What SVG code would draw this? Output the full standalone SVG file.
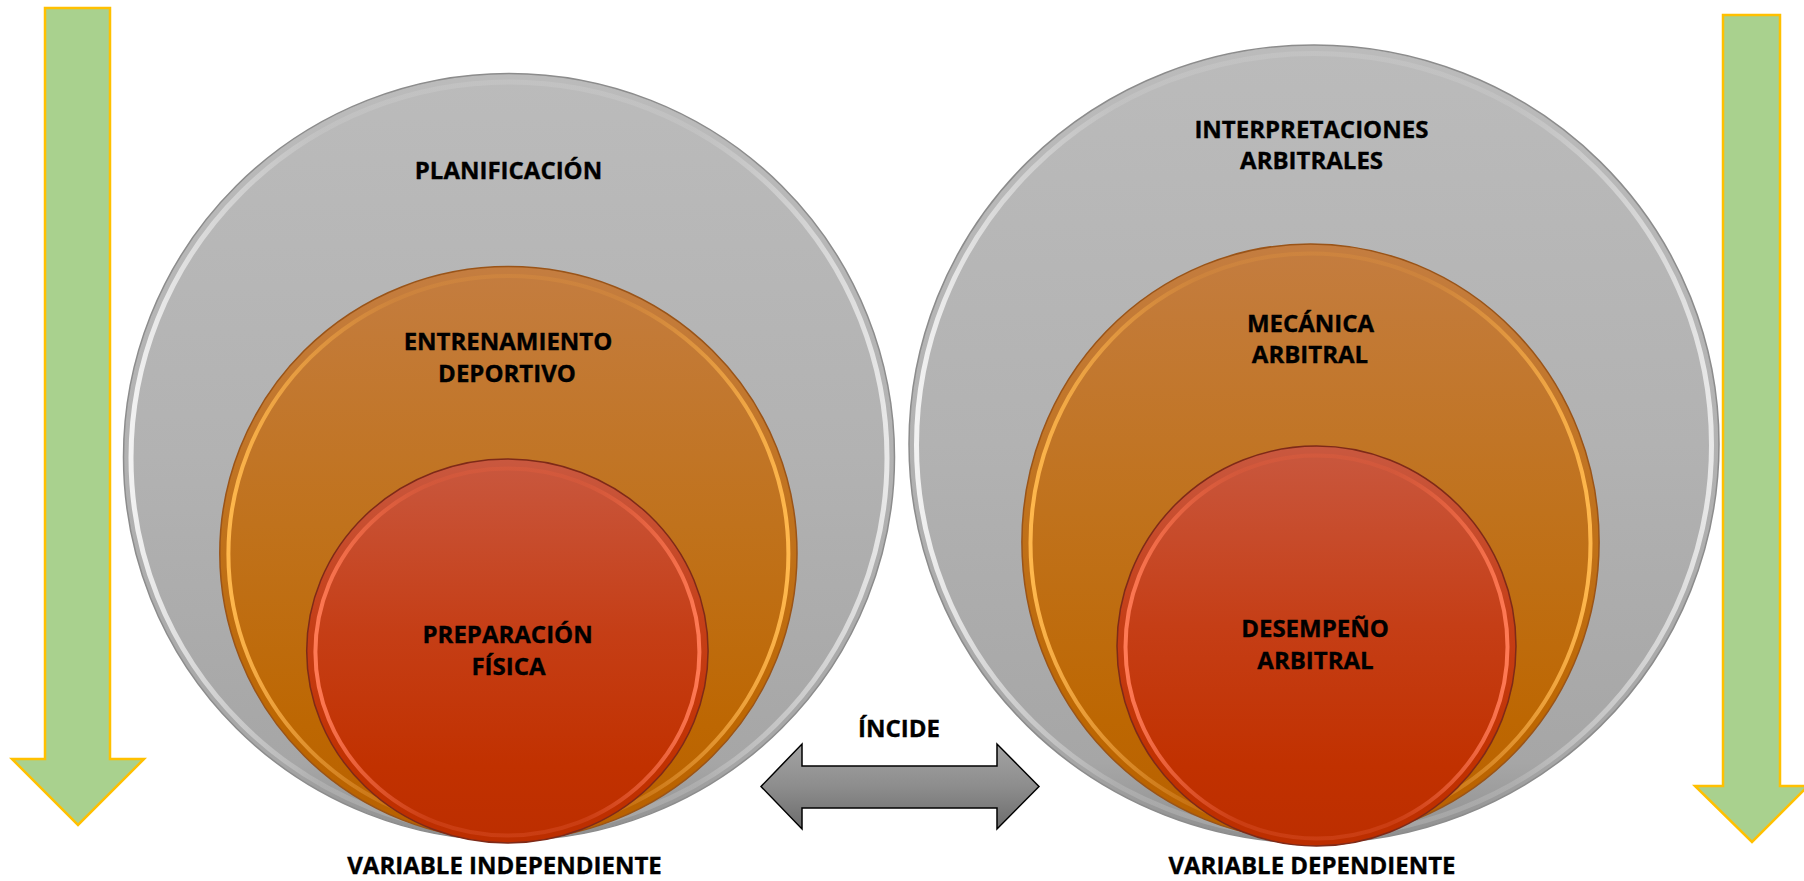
<svg xmlns="http://www.w3.org/2000/svg" width="1804" height="881" viewBox="0 0 1804 881">
<style>
.lbl{font-family:"Open Sans","Liberation Sans",Arial,sans-serif;font-weight:700;font-size:24px;fill:#000;stroke:#000;stroke-width:0.35;text-anchor:middle}
.green{fill:#a9d18e;stroke:#ffc000;stroke-width:2.5;stroke-linejoin:miter}
.gray{fill:url(#gGray);stroke:#8c8c8c;stroke-width:1.5}
.grayRim{fill:none;stroke:url(#gGrayRim);stroke-width:5}
.orange{fill:url(#gOrange);stroke:#9a5418;stroke-width:1.5}
.orangeRim{fill:none;stroke:url(#gOrangeRim);stroke-width:4}
.red{fill:url(#gRed);stroke:#7e2a18;stroke-width:1.5}
.redRim{fill:none;stroke:url(#gRedRim);stroke-width:4}
.dbl{fill:url(#gArrow);stroke:#000;stroke-width:1.5;stroke-linejoin:miter}
</style>
<defs>
<linearGradient id="gGray" x1="0" y1="0" x2="0" y2="1">
<stop offset="0" stop-color="#bbbbbb"/>
<stop offset="0.5" stop-color="#b2b2b2"/>
<stop offset="0.9" stop-color="#a6a6a6"/>
<stop offset="1" stop-color="#8e8e8e"/>
</linearGradient>
<linearGradient id="gGrayRim" x1="0" y1="0" x2="1" y2="0">
<stop offset="0" stop-color="#f2f2f2"/>
<stop offset="0.25" stop-color="#d8d8d8" stop-opacity="0.25"/>
<stop offset="0.75" stop-color="#d8d8d8" stop-opacity="0.25"/>
<stop offset="1" stop-color="#eeeeee" stop-opacity="0.9"/>
</linearGradient>
<linearGradient id="gOrange" x1="0" y1="0" x2="0" y2="1">
<stop offset="0" stop-color="#c47d40"/>
<stop offset="0.45" stop-color="#c0721c"/>
<stop offset="0.8" stop-color="#bd6702"/>
<stop offset="1" stop-color="#b86000"/>
</linearGradient>
<linearGradient id="gOrangeRim" x1="0" y1="0" x2="1" y2="0">
<stop offset="0" stop-color="#ffb84d"/>
<stop offset="0.3" stop-color="#e89a40" stop-opacity="0.25"/>
<stop offset="0.7" stop-color="#e89a40" stop-opacity="0.25"/>
<stop offset="1" stop-color="#ffb84d"/>
</linearGradient>
<linearGradient id="gRed" x1="0" y1="0" x2="0" y2="1">
<stop offset="0" stop-color="#c9583f"/>
<stop offset="0.45" stop-color="#c53e16"/>
<stop offset="0.8" stop-color="#c13100"/>
<stop offset="1" stop-color="#bc2e00"/>
</linearGradient>
<linearGradient id="gRedRim" x1="0" y1="0" x2="1" y2="0">
<stop offset="0" stop-color="#ff7a55"/>
<stop offset="0.3" stop-color="#e9603e" stop-opacity="0.3"/>
<stop offset="0.7" stop-color="#e9603e" stop-opacity="0.3"/>
<stop offset="1" stop-color="#ff7a55"/>
</linearGradient>
<linearGradient id="gArrow" x1="0" y1="0" x2="0" y2="1">
<stop offset="0" stop-color="#a3a3a3"/>
<stop offset="0.5" stop-color="#8d8d8d"/>
<stop offset="1" stop-color="#6c6c6c"/>
</linearGradient>
</defs>
<rect width="1804" height="881" fill="#ffffff"/>

<g id="arrow-left-green">
<polygon class="green" points="45,8 110,8 110,759 144,759 78,825 12,759 45,759"/>
</g>
<g id="arrow-right-green">
<polygon class="green" points="1723,15 1780,15 1780,786 1808,786 1752,842 1695,786 1723,786"/>
</g>

<g id="node-planificacion">
<ellipse class="gray" cx="509" cy="457" rx="385.5" ry="383.5"/>
<ellipse class="grayRim" cx="509" cy="458" rx="378" ry="376"/>
<text class="lbl" x="508.5" y="179.3">PLANIFICACIÓN</text>
</g>
<g id="node-entrenamiento">
<ellipse class="orange" cx="508.4" cy="553.3" rx="288.6" ry="286.7"/>
<ellipse class="orangeRim" cx="508.4" cy="554" rx="280" ry="278"/>
<text class="lbl" x="508" y="350">ENTRENAMIENTO</text>
<text class="lbl" x="507" y="381.7">DEPORTIVO</text>
</g>
<g id="node-preparacion">
<ellipse class="red" cx="507.4" cy="651" rx="200.7" ry="192"/>
<ellipse class="redRim" cx="507.4" cy="652" rx="192" ry="183.5"/>
<text class="lbl" x="507.6" y="643.3">PREPARACIÓN</text>
<text class="lbl" x="508.5" y="675">FÍSICA</text>
</g>

<g id="node-interpretaciones">
<ellipse class="gray" cx="1314" cy="444" rx="405" ry="399"/>
<ellipse class="grayRim" cx="1314" cy="445" rx="397.5" ry="391.5"/>
<text class="lbl" x="1311.4" y="138.3">INTERPRETACIONES</text>
<text class="lbl" x="1311.6" y="169.3">ARBITRALES</text>
</g>
<g id="node-mecanica">
<ellipse class="orange" cx="1310.5" cy="542" rx="288.6" ry="298"/>
<ellipse class="orangeRim" cx="1310.5" cy="543" rx="280" ry="289.5"/>
<text class="lbl" x="1310.5" y="331.7">MECÁNICA</text>
<text class="lbl" x="1310" y="363.3">ARBITRAL</text>
</g>
<g id="node-desempeno">
<ellipse class="red" cx="1316.5" cy="646" rx="199.5" ry="200"/>
<ellipse class="redRim" cx="1316.5" cy="647" rx="191" ry="191.5"/>
<text class="lbl" x="1315" y="637.3">DESEMPEÑO</text>
<text class="lbl" x="1315.5" y="669.3">ARBITRAL</text>
</g>

<g id="connectors">
<polygon class="dbl" points="761,786.5 802,744 802,766 997,766 997,744 1039,786.5 997,829 997,808 802,808 802,829"/>
<text class="lbl" x="899" y="737">ÍNCIDE</text>
</g>

<g id="labels">
<text class="lbl" x="504.5" y="874.3">VARIABLE INDEPENDIENTE</text>
<text class="lbl" x="1312" y="874.3">VARIABLE DEPENDIENTE</text>
</g>
</svg>
